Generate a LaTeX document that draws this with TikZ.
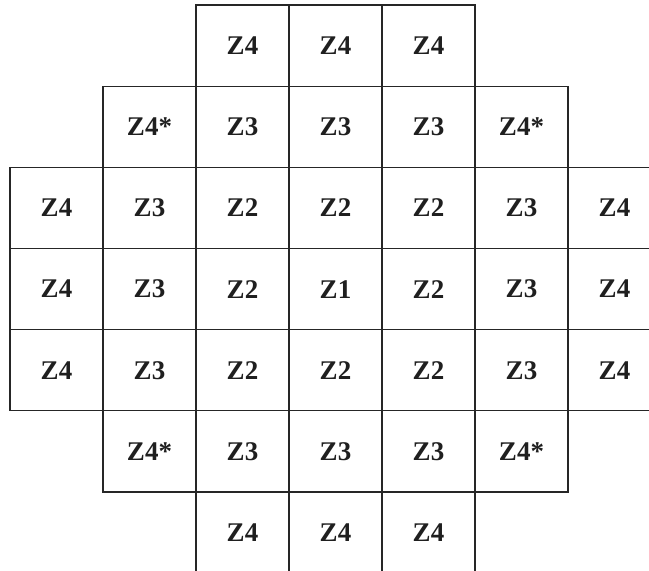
\documentclass[tikz,border=0pt]{standalone}
\usepackage{fontspec}
\setmainfont{Liberation Serif}
\begin{document}
\begin{tikzpicture}[x=1pt,y=-1pt,
  cell/.style={draw=black!85, line width=1.1pt, minimum width=93pt, minimum height=81.17pt,
    inner sep=0pt, outer sep=0pt, font=\fontsize{27}{30}\selectfont\bfseries, text=black!88}]
\useasboundingbox (0,0) rectangle (649,571);
\clip (0,0) rectangle (649,571);
\foreach \r/\c/\t in {0/2/Z4,0/3/Z4,0/4/Z4,
  1/1/Z4*,1/2/Z3,1/3/Z3,1/4/Z3,1/5/Z4*,
  2/0/Z4,2/1/Z3,2/2/Z2,2/3/Z2,2/4/Z2,2/5/Z3,2/6/Z4,
  3/0/Z4,3/1/Z3,3/2/Z2,3/3/Z1,3/4/Z2,3/5/Z3,3/6/Z4,
  4/0/Z4,4/1/Z3,4/2/Z2,4/3/Z2,4/4/Z2,4/5/Z3,4/6/Z4,
  5/1/Z4*,5/2/Z3,5/3/Z3,5/4/Z3,5/5/Z4*,
  6/2/Z4,6/3/Z4,6/4/Z4}
  \node[cell] (c-\r-\c) at ({10+93*\c+46.5},{5+81.17*\r+40.58}) {\t};
\end{tikzpicture}
\end{document}
